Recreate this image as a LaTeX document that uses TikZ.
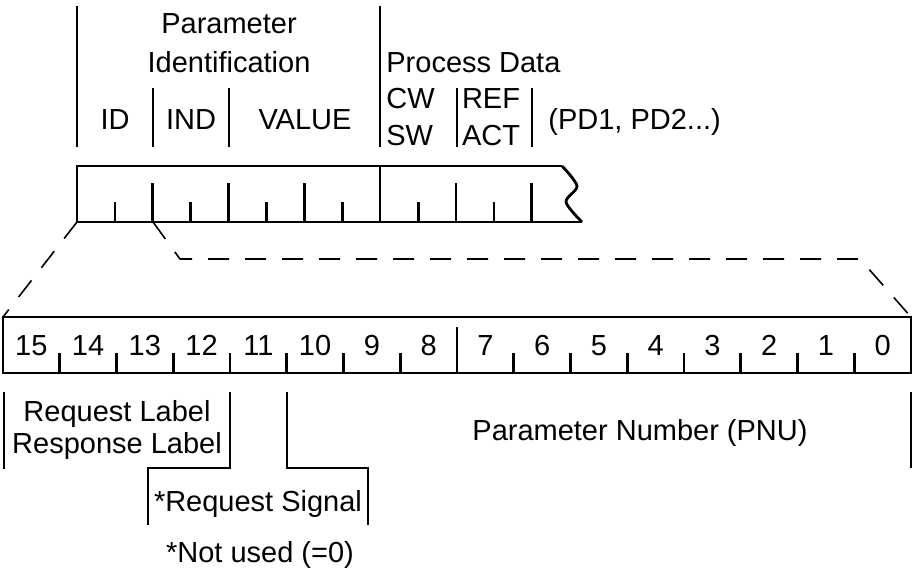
\documentclass[tikz,border=0pt]{standalone}
\usepackage{fontspec}
\setmainfont{Liberation Sans}
\usepackage{tikz}

\tikzset{
  reg/.style={line width=1.4pt},
  zoomline/.style={line width=0.8pt, dash pattern=on 10.5pt off 8pt},
  txt/.style={font=\fontsize{14.5}{17}\selectfont, inner sep=0pt, anchor=base},
}

\begin{document}
\begin{tikzpicture}[x=0.5pt, y=-0.5pt]
\useasboundingbox (0,0) rectangle (912,569);

% ==== Top labels ====
\draw[reg] (77,6) -- (77,147);
\draw[reg] (380,6) -- (380,147);
\foreach \x in {153,229,457,532}
  \draw[reg] (\x,88) -- (\x,147);

\node[txt] (param) at (229,33) {Parameter};
\node[txt] (ident) at (229,72) {Identification};
\node[txt] (id) at (115,129) {ID};
\node[txt] (ind) at (191,129) {IND};
\node[txt] (value) at (305,129) {VALUE};
\node[txt, anchor=base west] (pdata) at (386,72) {Process Data};
\node[txt, anchor=base west] (cw) at (386,108) {CW};
\node[txt, anchor=base west] (sw) at (386,145) {SW};
\node[txt] (ref) at (491,108) {REF};
\node[txt] (act) at (491,145) {ACT};
\node[txt, anchor=base west] (pdn) at (548,129) {(PD1, PD2...)};

% ==== Top register ====
\draw[reg] (582,222) -- (77,222) -- (77,166) -- (562,166);
\draw[reg] plot[smooth, tension=0.5] coordinates {(562,166) (577,186) (566,202) (582,222)};
\foreach \i in {1,3,...,11}
  \draw[reg] ({77+37.9*\i},202) -- ({77+37.9*\i},222);
\foreach \i in {2,4,6,10,12}
  \draw[reg] ({77+37.9*\i},183) -- ({77+37.9*\i},222);
\draw[reg] (380,166) -- (380,222);

% corners for the zoom lines
\coordinate (topsw) at (77,222);
\coordinate (topind) at (153,222);
\coordinate (bend1) at (180,259);
\coordinate (bend2) at (860,259);
\coordinate (botnw) at (3,317);
\coordinate (botne) at (911,317);

% ==== Zoom lines ====
\draw[zoomline] (topsw) -- (botnw);
\draw[zoomline] (topind) -- (bend1) -- (bend2) -- (botne);

% ==== Bottom register ====
\draw[reg] (3,317) rectangle (911,373);
\foreach \i in {1,...,15}
  \draw[reg] ({3+56.75*\i},353) -- ({3+56.75*\i},373);
\draw[reg] (457,327) -- (457,353);
\foreach \b [evaluate=\b as \cx using 3+56.75*(15.5-\b)] in {0,...,15}
  \node[txt] (bit\b) at (\cx,355) {\b};

% ==== Field labels ====
\draw[reg] (4,392) -- (4,469);
\draw[reg] (230,392) -- (230,468) -- (148,468) -- (148,525);
\draw[reg] (287,392) -- (287,468) -- (368,468) -- (368,525);
\draw[reg] (911,392) -- (911,468);

\node[txt] (reqlbl) at (117,421) {Request Label};
\node[txt] (reslbl) at (117,453) {Response Label};
\node[txt] (reqsig) at (258,511) {*Request Signal};
\node[txt] (pnu) at (640,440) {Parameter Number (PNU)};
\node[txt] (notused) at (260,562) {*Not used (=0)};

\end{tikzpicture}
\end{document}
